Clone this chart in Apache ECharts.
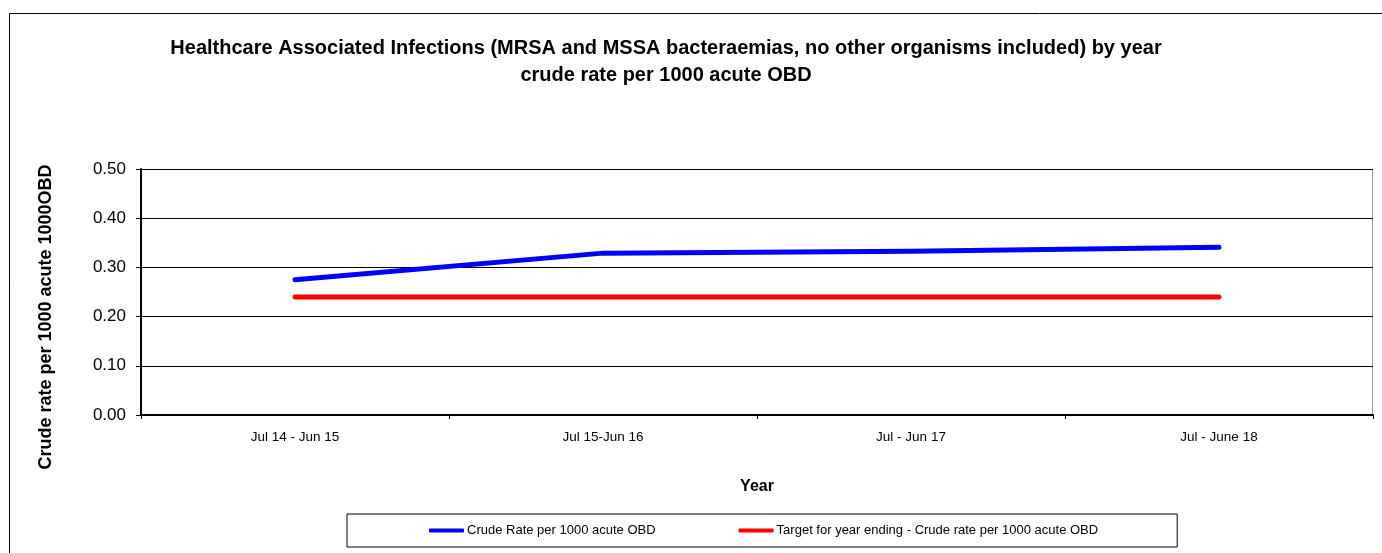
<!DOCTYPE html>
<html>
<head>
<meta charset="utf-8">
<script src="https://cdn.jsdelivr.net/npm/echarts@6/dist/echarts.min.js"></script>
<style>
  html, body { margin: 0; padding: 0; background: #fff; }
  #chart { width: 1382px; height: 553px; }
</style>
</head>
<body>
<div id="chart"></div>
<script>
// Reporting periods (x axis)
const periods = ['Jul 14 - Jun 15', 'Jul 15-Jun 16', 'Jul - Jun 17', 'Jul - June 18'];
// Crude rate per 1000 acute OBD
const crudeRate = [0.275, 0.329, 0.333, 0.341];
// Target for year ending
const targetRate = [0.24, 0.24, 0.24, 0.24];
// Y axis ticks
const yTicks = [0, 0.1, 0.2, 0.3, 0.4, 0.5];

const FONT = '"Liberation Sans", Arial, sans-serif';

const chart = echarts.init(document.getElementById('chart'), null, { renderer: 'canvas' });

chart.setOption({
  animation: false,
  backgroundColor: '#fff',
  textStyle: { fontFamily: FONT },
  title: {
    text: 'Healthcare Associated Infections (MRSA and MSSA bacteraemias, no other organisms included) by year\ncrude rate per 1000 acute OBD',
    left: 661,
    top: 30,
    textAlign: 'center',
    textStyle: { fontFamily: FONT, fontSize: 20, fontWeight: 'bold', color: '#000', lineHeight: 27 }
  },
  graphic: [{
    type: 'rect',
    shape: { x: 9.5, y: 13.5, width: 1400, height: 600 },
    style: { fill: 'none', stroke: '#000', lineWidth: 1 },
    silent: true,
    z: -1
  }, {
    type: 'line',
    shape: { x1: 1372.5, y1: 169, x2: 1372.5, y2: 415 },
    style: { stroke: '#999', lineWidth: 1 },
    silent: true
  }],
  legend: {
    left: 347,
    top: 514,
    orient: 'horizontal',
    itemWidth: 35,
    itemHeight: 4,
    itemGap: 83,
    padding: [10, 79, 10, 82],
    borderColor: '#000',
    borderWidth: 1,
    textStyle: { fontFamily: FONT, fontSize: 13, color: '#000', padding: [0, 0, 0, -2] },
    data: [
      { name: 'Crude Rate per 1000 acute OBD', icon: 'roundRect' },
      { name: 'Target for year ending - Crude rate per 1000 acute OBD', icon: 'roundRect' }
    ]
  },
  grid: { left: 141, right: 9, top: 169, bottom: 138, containLabel: false },
  xAxis: {
    type: 'category',
    data: periods,
    boundaryGap: true,
    name: 'Year',
    nameLocation: 'middle',
    nameGap: 64,
    nameTextStyle: { fontFamily: FONT, fontSize: 16, fontWeight: 'bold', color: '#000' },
    axisLine: { lineStyle: { color: '#000', width: 2 } },
    axisTick: { show: true, length: 4, alignWithLabel: false, lineStyle: { color: '#000', width: 1 } },
    axisLabel: { fontFamily: FONT, fontSize: 13.5, color: '#000', margin: 15 }
  },
  yAxis: {
    type: 'value',
    min: yTicks[0],
    max: yTicks[yTicks.length - 1],
    interval: 0.1,
    name: 'Crude rate per 1000 acute 1000OBD',
    nameLocation: 'middle',
    nameGap: 86,
    nameTextStyle: { fontFamily: FONT, fontSize: 18, fontWeight: 'bold', color: '#000', padding: [0, 50, 0, 0] },
    axisLine: { show: true, lineStyle: { color: '#000', width: 2 } },
    axisTick: { show: true, inside: false, length: 5, lineStyle: { color: '#000', width: 1 } },
    axisLabel: { fontFamily: FONT, fontSize: 17, color: '#000', margin: 15, formatter: v => v.toFixed(2) },
    splitLine: { show: true, lineStyle: { color: '#000', width: 1 } }
  },
  series: [{
    name: 'Crude Rate per 1000 acute OBD',
    type: 'line',
    data: crudeRate,
    symbol: 'none',
    color: '#0000ff',
    lineStyle: { color: '#0000ff', width: 5, cap: 'round', join: 'round' }
  }, {
    name: 'Target for year ending - Crude rate per 1000 acute OBD',
    type: 'line',
    data: targetRate,
    symbol: 'none',
    color: '#ff0000',
    lineStyle: { color: '#ff0000', width: 5, cap: 'round', join: 'round' }
  }]
});
</script>
</body>
</html>
